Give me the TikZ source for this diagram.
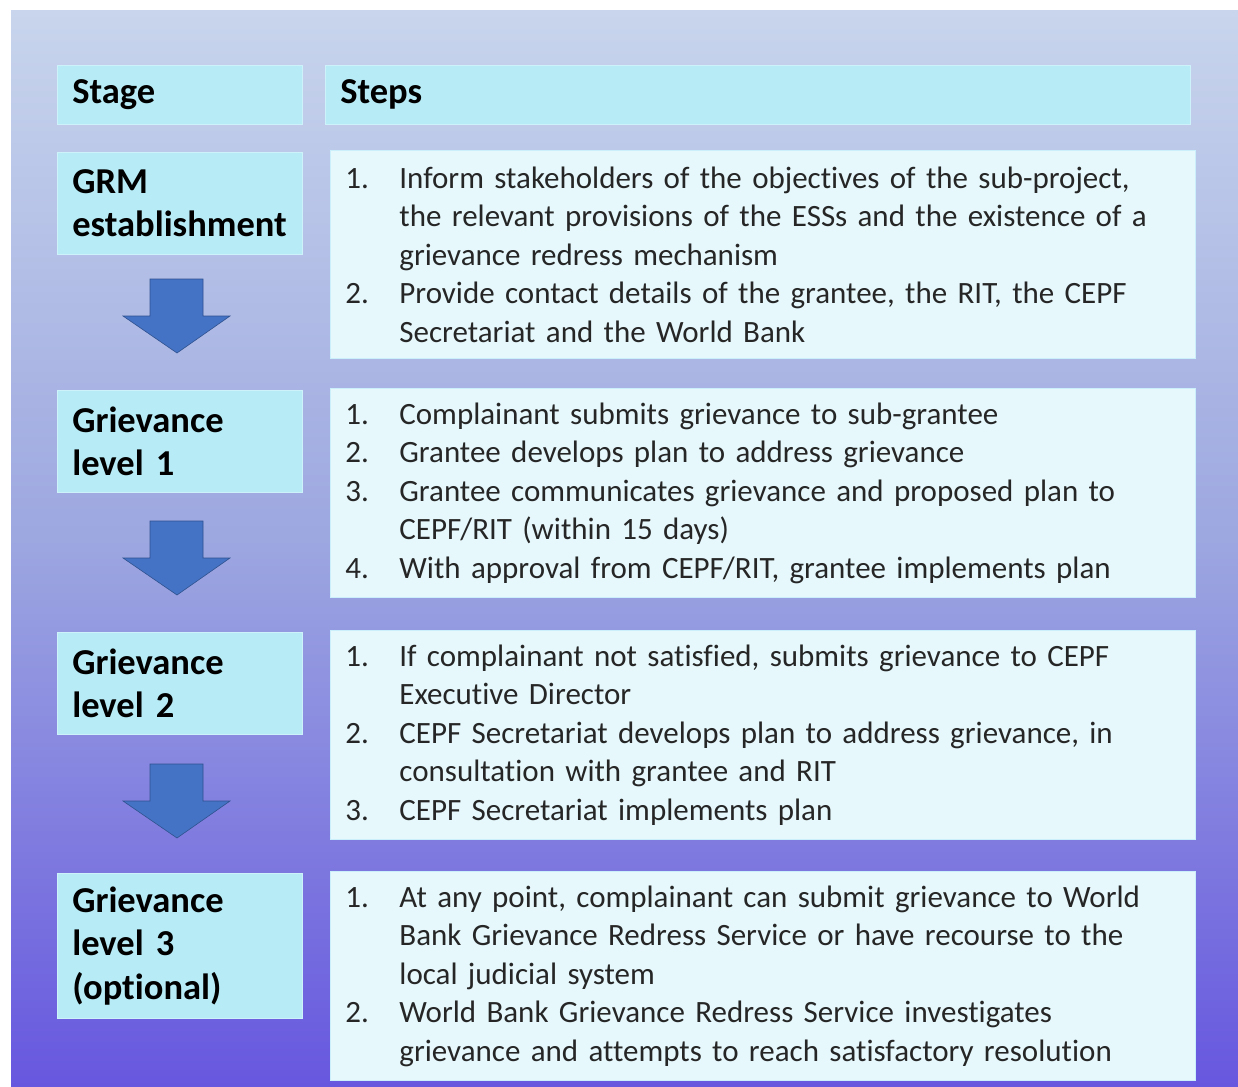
\documentclass[tikz,border=0pt]{standalone}
\usepackage{fontspec}
\setmainfont{Carlito}[Ligatures={NoCommon}]
\usepackage{tikz}

\definecolor{stagefill}{HTML}{B7ECF6}
\definecolor{stepfill}{HTML}{E6F8FC}
\definecolor{arrowfill}{HTML}{4472C4}
\definecolor{arrowline}{HTML}{2F528F}
\definecolor{bgtop}{HTML}{C8D5EC}
\definecolor{bgmid}{HTML}{9CA6E0}
\definecolor{bgbot}{HTML}{6757DF}

\newcommand{\stepnum}[1]{\makebox[54pt][l]{#1}}
\newcommand{\stepcont}{\hspace*{54pt}}

\tikzset{
  stagebox/.style={anchor=north west, fill=stagefill, draw=stagefill!70!white, line width=0.6pt,
    text width=215pt, inner xsep=15pt, inner ysep=0pt, align=left,
    font=\fontsize{36.5}{43.5}\selectfont\bfseries},
  stepbox/.style={anchor=north west, fill=stepfill, draw=white!80!cyan, line width=0.8pt,
    text width=835pt, inner xsep=15pt, inner ysep=0pt, minimum height=209pt, align=left,
    text=black!85, font=\fontsize{31}{38.5}\selectfont},
  downarrow/.style={fill=arrowfill, draw=arrowline, line width=0.6pt}
}

\begin{document}
\begin{tikzpicture}[x=1pt,y=-1pt]
  \useasboundingbox (0,0) rectangle (1238,1086);
  \shade[top color=bgtop, bottom color=bgbot, middle color=bgmid] (11,11) rectangle (1238,1086);

  % column headers
  \node[stagebox, minimum height=59pt] (stagehead) at (57,65) {Stage};
  \node[stagebox, text width=835pt, minimum height=59pt] (stepshead) at (325,65) {Steps};

  % stages
  \node[stagebox, minimum height=102pt] (grm) at (57,152) {GRM\\establishment};
  \node[stagebox, minimum height=102pt] (level1) at (57,390) {Grievance\\level 1};
  \node[stagebox, minimum height=102pt] (level2) at (57,632) {Grievance\\level 2};
  \node[stagebox, minimum height=145pt] (level3) at (57,873) {Grievance\\level 3\\(optional)};

  % steps
  \node[stepbox, minimum height=208pt] (grmsteps) at (330,150) {%
    \stepnum{1.}Inform stakeholders of the objectives of the sub-project,\\
    \stepcont the relevant provisions of the ESSs and the existence of a\\
    \stepcont grievance redress mechanism\\
    \stepnum{2.}Provide contact details of the grantee, the RIT, the CEPF\\
    \stepcont Secretariat and the World Bank};
  \node[stepbox] (steps1) at (330,388) {%
    \stepnum{1.}Complainant submits grievance to sub-grantee\\
    \stepnum{2.}Grantee develops plan to address grievance\\
    \stepnum{3.}Grantee communicates grievance and proposed plan to\\
    \stepcont CEPF/RIT (within 15 days)\\
    \stepnum{4.}With approval from CEPF/RIT, grantee implements plan};
  \node[stepbox] (steps2) at (330,630) {%
    \stepnum{1.}If complainant not satisfied, submits grievance to CEPF\\
    \stepcont Executive Director\\
    \stepnum{2.}CEPF Secretariat develops plan to address grievance, in\\
    \stepcont consultation with grantee and RIT\\
    \stepnum{3.}CEPF Secretariat implements plan};
  \node[stepbox] (steps3) at (330,871) {%
    \stepnum{1.}At any point, complainant can submit grievance to World\\
    \stepcont Bank Grievance Redress Service or have recourse to the\\
    \stepcont local judicial system\\
    \stepnum{2.}World Bank Grievance Redress Service investigates\\
    \stepcont grievance and attempts to reach satisfactory resolution};

  % block arrows between stages
  \foreach \t in {279,521,764} {
    \draw[downarrow] (150,\t) -- (203,\t) -- (203,{\t+37}) -- (230,{\t+37})
      -- (177,{\t+74}) -- (123,{\t+37}) -- (150,{\t+37}) -- cycle;
  }
\end{tikzpicture}
\end{document}
